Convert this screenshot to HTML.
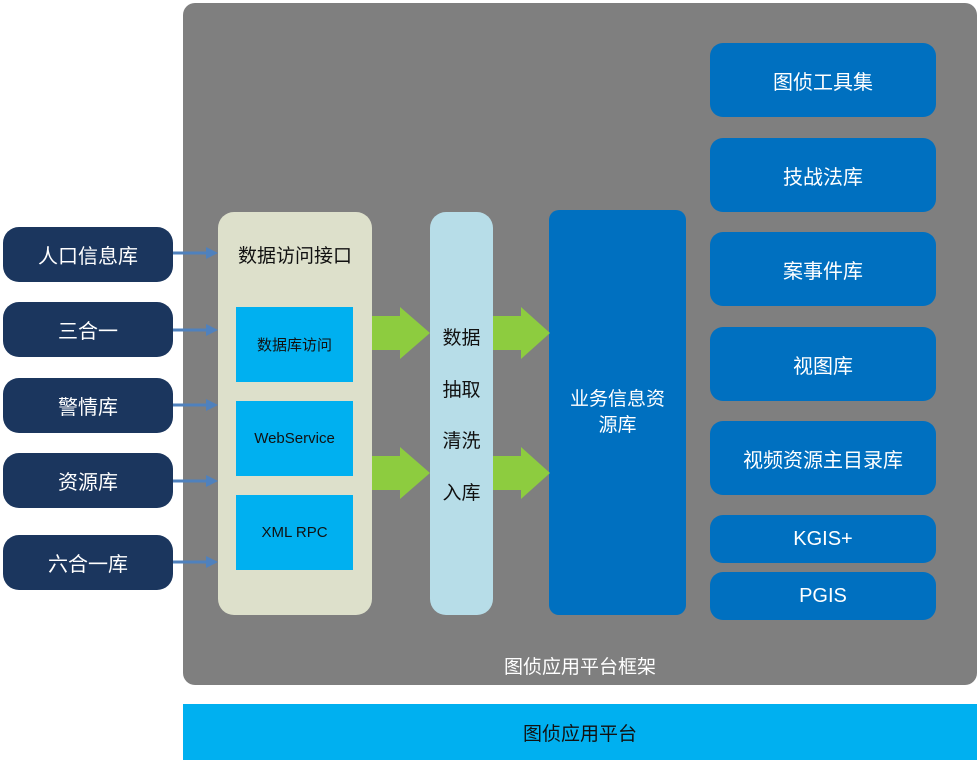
<!DOCTYPE html>
<html><head><meta charset="utf-8"><style>
body{margin:0;width:979px;height:763px;background:#fff;position:relative;overflow:hidden;font-family:"Liberation Sans","Noto Sans CJK SC",sans-serif}
div{position:absolute;box-sizing:border-box}
.c{display:flex;align-items:center;justify-content:center;text-align:center}
.l{left:3px;width:170px;height:55px;background:#1b365e;border-radius:16px;color:#fff;font-size:20px}
.i{left:236px;width:117px;height:75px;background:#00b0f0;color:#111;font-size:15px}
.r{left:710px;width:226px;background:#0070c0;border-radius:13px;color:#fff;font-size:20px}
.t{left:430px;width:63px;color:#111;font-size:19px;text-align:center}
</style></head><body>
<div style="left:183px;top:3px;width:794px;height:682px;background:#7f7f7f;border-radius:12px"></div>
<div class="c" style="left:183px;top:704px;width:794px;height:56px;background:#00b0f0;font-size:19px;color:#111">图侦应用平台</div>
<div class="c" style="left:183px;top:650px;width:794px;height:30px;color:#fff;font-size:19px">图侦应用平台框架</div>

<div class="l c" style="top:227px">人口信息库</div>
<div class="l c" style="top:302px">三合一</div>
<div class="l c" style="top:378px">警情库</div>
<div class="l c" style="top:453px">资源库</div>
<div class="l c" style="top:535px">六合一库</div>

<div style="left:218px;top:212px;width:154px;height:403px;background:#dde0cb;border-radius:16px"></div>
<div class="c" style="left:218px;top:240px;width:154px;height:28px;font-size:19px;color:#111">数据访问接口</div>
<div class="i c" style="top:307px">数据库访问</div>
<div class="i c" style="top:401px">WebService</div>
<div class="i c" style="top:495px">XML RPC</div>

<div style="left:430px;top:212px;width:63px;height:403px;background:#b7dde8;border-radius:16px"></div>
<div class="t" style="top:323px">数据</div>
<div class="t" style="top:375px">抽取</div>
<div class="t" style="top:426px">清洗</div>
<div class="t" style="top:478px">入库</div>

<div class="c" style="left:549px;top:210px;width:137px;height:405px;background:#0070c0;border-radius:10px;color:#fff;font-size:19px;padding:0 14px;line-height:26px">业务信息资源库</div>

<div class="r c" style="top:43px;height:74px">图侦工具集</div>
<div class="r c" style="top:138px;height:74px">技战法库</div>
<div class="r c" style="top:232px;height:74px">案事件库</div>
<div class="r c" style="top:327px;height:74px">视图库</div>
<div class="r c" style="top:421px;height:74px">视频资源主目录库</div>
<div class="r c" style="top:515px;height:48px">KGIS+</div>
<div class="r c" style="top:572px;height:48px">PGIS</div>

<svg style="position:absolute;left:0;top:0" width="979" height="763">
<g fill="#4f81bd" stroke="#4f81bd" stroke-width="3">
<line x1="173" y1="253" x2="208" y2="253"/><polygon points="206,247 218,253 206,259" stroke="none"/>
<line x1="173" y1="330" x2="208" y2="330"/><polygon points="206,324 218,330 206,336" stroke="none"/>
<line x1="173" y1="405" x2="208" y2="405"/><polygon points="206,399 218,405 206,411" stroke="none"/>
<line x1="173" y1="481" x2="208" y2="481"/><polygon points="206,475 218,481 206,487" stroke="none"/>
<line x1="173" y1="562" x2="208" y2="562"/><polygon points="206,556 218,562 206,568" stroke="none"/>
</g>
<g fill="#8dcc3f">
<polygon points="372,316 400,316 400,307 430,333 400,359 400,350 372,350"/>
<polygon points="372,456 400,456 400,447 430,473 400,499 400,490 372,490"/>
<polygon points="493,316 521,316 521,307 550,333 521,359 521,350 493,350"/>
<polygon points="493,456 521,456 521,447 550,473 521,499 521,490 493,490"/>
</g>
</svg>
</body></html>
